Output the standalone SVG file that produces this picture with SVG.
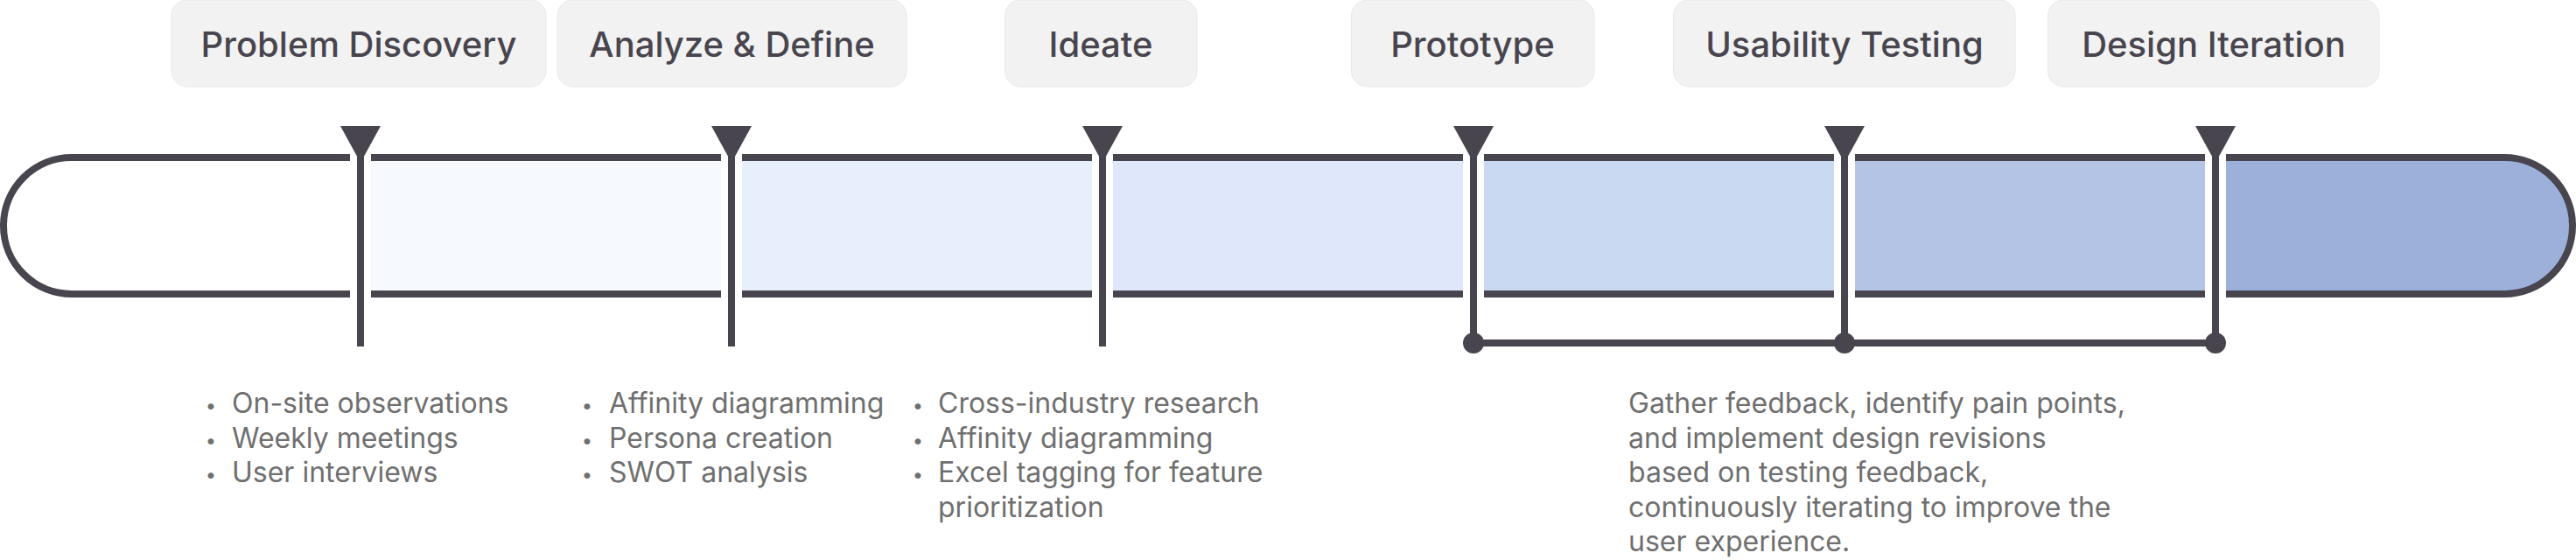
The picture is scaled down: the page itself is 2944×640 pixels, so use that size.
<svg xmlns="http://www.w3.org/2000/svg" width="2944" height="640" viewBox="0 0 2944 640">
<defs>
<style>
.lbl-box{fill:#f2f2f2;stroke:#e8e8e8;stroke-width:1}
.lbl{font-family:Inter,"Noto Sans",sans-serif;font-weight:500;font-size:40px;fill:#48454e;text-anchor:middle}
.body{font-family:Inter,"Noto Sans",sans-serif;font-weight:400;font-size:32px;fill:#6f6f6f}
.dot{font-family:Inter,"Noto Sans",sans-serif;font-size:22px;fill:#6f6f6f;text-anchor:middle}
.ink{stroke:#48454e;stroke-width:8;fill:none}
.tri{fill:#48454e}
.gap{fill:#ffffff}
</style>
<clipPath id="pill">
<path d="M82 180H2862A78 78 0 0 1 2862 336H82A78 78 0 0 1 82 180Z"/>
</clipPath>
<polygon id="tri" class="tri" points="-23,144 23,144 0,186"/>
</defs>
<rect width="2944" height="640" fill="#ffffff"/>

<g id="track">
<g clip-path="url(#pill)">
<rect x="0" y="176" width="412" height="164" fill="#ffffff"/>
<rect x="412" y="176" width="424" height="164" fill="#f6f9fe"/>
<rect x="836" y="176" width="424" height="164" fill="#e8effc"/>
<rect x="1260" y="176" width="424" height="164" fill="#dfe8fb"/>
<rect x="1684" y="176" width="424" height="164" fill="#cad9f2"/>
<rect x="2108" y="176" width="424" height="164" fill="#b3c4e5"/>
<rect x="2532" y="176" width="412" height="164" fill="#9cb0d9"/>
</g>
<path class="ink" d="M82 180H2862A78 78 0 0 1 2862 336H82A78 78 0 0 1 82 180Z"/>
<rect class="gap" x="400" y="174" width="24" height="168"/>
<rect class="gap" x="824" y="174" width="24" height="168"/>
<rect class="gap" x="1248" y="174" width="24" height="168"/>
<rect class="gap" x="1672" y="174" width="24" height="168"/>
<rect class="gap" x="2096" y="174" width="24" height="168"/>
<rect class="gap" x="2520" y="174" width="24" height="168"/>
</g>

<g id="connectors">
<line class="ink" x1="412" y1="150" x2="412" y2="396"/>
<line class="ink" x1="836" y1="150" x2="836" y2="396"/>
<line class="ink" x1="1260" y1="150" x2="1260" y2="396"/>
<line class="ink" x1="1684" y1="150" x2="1684" y2="392"/>
<line class="ink" x1="2108" y1="150" x2="2108" y2="392"/>
<line class="ink" x1="2532" y1="150" x2="2532" y2="392"/>
<use href="#tri" x="412"/>
<use href="#tri" x="836"/>
<use href="#tri" x="1260"/>
<use href="#tri" x="1684"/>
<use href="#tri" x="2108"/>
<use href="#tri" x="2532"/>
<line class="ink" x1="1684" y1="392" x2="2532" y2="392"/>
<circle class="tri" cx="1684" cy="392" r="12"/>
<circle class="tri" cx="2108" cy="392" r="12"/>
<circle class="tri" cx="2532" cy="392" r="12"/>
</g>

<g id="problem-discovery">
<rect class="lbl-box" x="196" y="0" width="428" height="99" rx="18"/>
<text class="lbl" x="410" y="65">Problem Discovery</text>
<text class="dot" x="241" y="471">•</text>
<text class="dot" x="241" y="510.5">•</text>
<text class="dot" x="241" y="550">•</text>
<text class="body" x="265" y="472">On-site observations</text>
<text class="body" x="265" y="511.5">Weekly meetings</text>
<text class="body" x="265" y="551">User interviews</text>
</g>

<g id="analyze-define">
<rect class="lbl-box" x="637" y="0" width="399" height="99" rx="18"/>
<text class="lbl" x="836.5" y="65">Analyze &amp; Define</text>
<text class="dot" x="671" y="471">•</text>
<text class="dot" x="671" y="510.5">•</text>
<text class="dot" x="671" y="550">•</text>
<text class="body" x="696" y="472">Affinity diagramming</text>
<text class="body" x="696" y="511.5">Persona creation</text>
<text class="body" x="696" y="551">SWOT analysis</text>
</g>

<g id="ideate">
<rect class="lbl-box" x="1148.5" y="0" width="219.5" height="99" rx="18"/>
<text class="lbl" x="1258" y="65">Ideate</text>
<text class="dot" x="1049" y="471">•</text>
<text class="dot" x="1049" y="510.5">•</text>
<text class="dot" x="1049" y="550">•</text>
<text class="body" x="1072" y="472">Cross-industry research</text>
<text class="body" x="1072" y="511.5">Affinity diagramming</text>
<text class="body" x="1072" y="551">Excel tagging for feature</text>
<text class="body" x="1072" y="590.5">prioritization</text>
</g>

<g id="prototype">
<rect class="lbl-box" x="1544.5" y="0" width="277.5" height="99" rx="18"/>
<text class="lbl" x="1683" y="65">Prototype</text>
</g>

<g id="usability-testing">
<rect class="lbl-box" x="1912.5" y="0" width="390.5" height="99" rx="18"/>
<text class="lbl" x="2108" y="65">Usability Testing</text>
</g>

<g id="design-iteration">
<rect class="lbl-box" x="2340.5" y="0" width="378.5" height="99" rx="18"/>
<text class="lbl" x="2530" y="65">Design Iteration</text>
</g>

<g id="iteration-note">
<text class="body" x="1861" y="472">Gather feedback, identify pain points,</text>
<text class="body" x="1861" y="511.5">and implement design revisions</text>
<text class="body" x="1861" y="551">based on testing feedback,</text>
<text class="body" x="1861" y="590.5">continuously iterating to improve the</text>
<text class="body" x="1861" y="630">user experience.</text>
</g>
</svg>
